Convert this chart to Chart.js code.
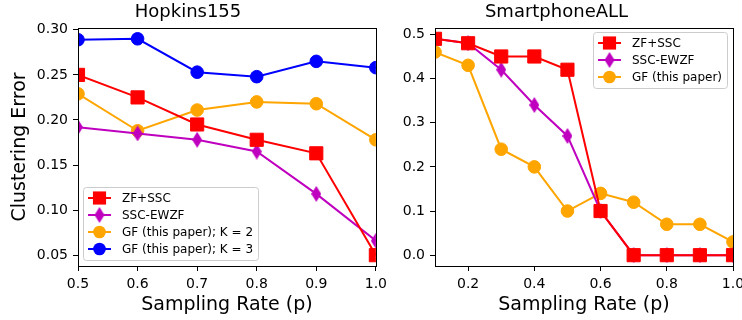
<!DOCTYPE html>
<html>
<head>
<meta charset="utf-8">
<script src="https://cdn.jsdelivr.net/npm/chart.js@4.4.1/dist/chart.umd.min.js"></script>
<style>
    body { margin: 0; background: #fff; width: 742px; height: 320px; overflow: hidden; position: relative; }
    .box { position: absolute; top: 0; height: 320px; }
</style>
</head>
<body>
<div class="box" style="left:0"><canvas id="hopkinsChart" width="392" height="320"></canvas></div>
<div class="box" style="left:380px"><canvas id="phoneChart" width="372" height="320"></canvas></div>
<script>
// Hopkins155
const hopRates = [0.5, 0.6, 0.7, 0.8, 0.9, 1.0];
const hopZF = [0.250, 0.225, 0.195, 0.178, 0.163, 0.050];
const hopEWZF = [0.192, 0.185, 0.178, 0.165, 0.118, 0.066];
const hopGF2 = [0.229, 0.188, 0.211, 0.220, 0.218, 0.178];
const hopGF3 = [0.289, 0.290, 0.253, 0.248, 0.265, 0.258];
const hopXTicks = [0.5, 0.6, 0.7, 0.8, 0.9, 1.0];
const hopYTicks = [0.05, 0.10, 0.15, 0.20, 0.25, 0.30];

// SmartphoneALL
const phoneRates = [0.1, 0.2, 0.3, 0.4, 0.5, 0.6, 0.7, 0.8, 0.9, 1.0];
const phoneZF = [0.49, 0.48, 0.45, 0.45, 0.42, 0.10, 0.00, 0.00, 0.00, 0.00];
const phoneEWZF = [0.49, 0.48, 0.42, 0.34, 0.27, 0.10, 0.00, 0.00, 0.00, 0.00];
const phoneGF = [0.46, 0.43, 0.24, 0.20, 0.10, 0.14, 0.12, 0.07, 0.07, 0.03];
const phoneXTicks = [0.2, 0.4, 0.6, 0.8, 1.0];
const phoneYTicks = [0.0, 0.1, 0.2, 0.3, 0.4, 0.5];

Chart.defaults.font.family = "'DejaVu Sans', sans-serif";
Chart.defaults.color = "#000";

const RED = "#ff0000", MAG = "#bf00bf", ORANGE = "#ffa500", BLUE = "#0000ff";

// matplotlib style thin diamond marker
function thinDiamond(color) {
    const c = document.createElement("canvas");
    c.width = 10; c.height = 16;
    const g = c.getContext("2d");
    g.fillStyle = color;
    g.beginPath();
    g.moveTo(5, 0); g.lineTo(10, 8); g.lineTo(5, 16); g.lineTo(0, 8);
    g.closePath();
    g.fill();
    return c;
}

function series(label, xs, ys, color, marker) {
    const ds = {
        label: label,
        data: xs.map((x, i) => ({ x: x, y: ys[i] })),
        borderColor: color,
        backgroundColor: color,
        borderWidth: 2,
        pointBorderColor: color,
        pointBackgroundColor: color,
        pointBorderWidth: 1,
        tension: 0,
        clip: 0
    };
    if (marker === "square") { ds.pointStyle = "rect"; ds.pointRadius = 9.3; }
    else if (marker === "circle") { ds.pointStyle = "circle"; ds.pointRadius = 6.3; }
    else { ds.pointStyle = thinDiamond(color); ds.pointRadius = 8; }
    return ds;
}

// black box around the plot area
const framePlugin = {
    id: "frame",
    afterDatasetsDraw(chart) {
        const { ctx, chartArea: a } = chart;
        ctx.save();
        ctx.strokeStyle = "#000";
        ctx.lineWidth = 1;
        ctx.strokeRect(Math.round(a.left) + 0.5, Math.round(a.top) + 0.5,
            Math.round(a.right - a.left), Math.round(a.bottom - a.top));
        ctx.restore();
    }
};

// matplotlib like legend drawn inside the plot
const boxLegend = {
    id: "boxLegend",
    afterDraw(chart, args, opts) {
        const ctx = chart.ctx;
        const sets = chart.data.datasets;
        ctx.save();
        ctx.font = opts.fontSize + "px 'DejaVu Sans'";
        let tw = 0;
        sets.forEach(d => { tw = Math.max(tw, ctx.measureText(d.label).width); });
        const w = opts.padX + opts.handle + opts.gap + tw + opts.padX;
        const h = opts.padY * 2 + (sets.length - 1) * opts.rowH;
        const x0 = opts.left !== undefined ? opts.left : opts.right - w;
        const y0 = opts.top !== undefined ? opts.top : opts.bottom - h;
        ctx.beginPath();
        ctx.roundRect(x0 + 0.5, y0 + 0.5, w, h, 3);
        ctx.fillStyle = "rgba(255,255,255,0.8)";
        ctx.fill();
        ctx.strokeStyle = "#cccccc";
        ctx.lineWidth = 1;
        ctx.stroke();
        sets.forEach((d, i) => {
            const y = y0 + opts.padY + i * opts.rowH;
            const hx = x0 + opts.padX;
            ctx.strokeStyle = d.borderColor;
            ctx.lineWidth = 2;
            ctx.beginPath();
            ctx.moveTo(hx, y); ctx.lineTo(hx + opts.handle, y);
            ctx.stroke();
            const cx = hx + opts.handle / 2;
            ctx.fillStyle = d.borderColor;
            if (d.pointStyle === "rect") {
                const s = d.pointRadius * Math.SQRT1_2;
                ctx.fillRect(cx - s, y - s, 2 * s, 2 * s);
            } else if (d.pointStyle === "circle") {
                ctx.beginPath(); ctx.arc(cx, y, d.pointRadius, 0, Math.PI * 2); ctx.fill();
            } else {
                ctx.drawImage(d.pointStyle, cx - d.pointStyle.width / 2, y - d.pointStyle.height / 2);
            }
            ctx.fillStyle = "#000";
            ctx.textBaseline = "middle";
            ctx.fillText(d.label, hx + opts.handle + opts.gap, y + 1);
        });
        ctx.restore();
    }
};

function makeChart(id, cfg) {
    return new Chart(document.getElementById(id), {
        type: "line",
        data: { datasets: cfg.datasets },
        options: {
            responsive: false,
            animation: false,
            layout: { padding: { left: 0, right: cfg.padRight, top: 0, bottom: 0 } },
            plugins: {
                legend: { display: false },
                tooltip: { enabled: false },
                title: {
                    display: true,
                    text: cfg.title,
                    font: { size: 18, weight: "normal" },
                    color: "#000",
                    padding: { top: 2, bottom: 4.4 }
                },
                boxLegend: cfg.legend
            },
            scales: {
                x: {
                    type: "linear",
                    min: cfg.xMin,
                    max: cfg.xMax,
                    afterBuildTicks: s => { s.ticks = cfg.xTicks.map(v => ({ value: v })); },
                    afterFit: s => { s.height = 54; },
                    grid: { drawOnChartArea: false, drawTicks: true, tickLength: 5, color: "#000" },
                    border: { display: false },
                    ticks: {
                        autoSkip: false, maxRotation: 0, padding: 5,
                        font: { size: 14 }, color: "#000",
                        callback: v => v.toFixed(1)
                    },
                    title: {
                        display: true,
                        text: "Sampling Rate (p)",
                        font: { size: 19 },
                        color: "#000",
                        padding: { top: 0, bottom: 4 }
                    }
                },
                y: {
                    min: cfg.yMin,
                    max: cfg.yMax,
                    afterBuildTicks: s => { s.ticks = cfg.yTicks.map(v => ({ value: v })); },
                    afterFit: s => { s.width = cfg.yWidth; },
                    grid: { drawOnChartArea: false, drawTicks: true, tickLength: 5, color: "#000" },
                    border: { display: false },
                    ticks: {
                        padding: 5, font: { size: 14 }, color: "#000",
                        callback: v => v.toFixed(cfg.yDigits)
                    },
                    title: {
                        display: cfg.yTitle !== "",
                        text: cfg.yTitle,
                        font: { size: 19 },
                        color: "#000",
                        padding: { top: 9, bottom: 0 }
                    }
                }
            }
        },
        plugins: [framePlugin, boxLegend]
    });
}

makeChart("hopkinsChart", {
    title: "Hopkins155",
    datasets: [
        series("ZF+SSC", hopRates, hopZF, RED, "square"),
        series("SSC-EWZF", hopRates, hopEWZF, MAG, "diamond"),
        series("GF (this paper); K = 2", hopRates, hopGF2, ORANGE, "circle"),
        series("GF (this paper); K = 3", hopRates, hopGF3, BLUE, "circle")
    ],
    xMin: 0.5, xMax: 1.0, xTicks: hopXTicks,
    yMin: 0.038, yMax: 0.302, yTicks: hopYTicks, yDigits: 2,
    yTitle: "Clustering Error", yWidth: 78, padRight: 16,
    legend: { left: 83, bottom: 260, padX: 5, padY: 11, rowH: 17, handle: 23, gap: 11, fontSize: 12 }
});

makeChart("phoneChart", {
    title: "SmartphoneALL",
    datasets: [
        series("ZF+SSC", phoneRates, phoneZF, RED, "square"),
        series("SSC-EWZF", phoneRates, phoneEWZF, MAG, "diamond"),
        series("GF (this paper)", phoneRates, phoneGF, ORANGE, "circle")
    ],
    xMin: 0.1, xMax: 1.0, xTicks: phoneXTicks,
    yMin: -0.0245, yMax: 0.5145, yTicks: phoneYTicks, yDigits: 1,
    yTitle: "", yWidth: 55, padRight: 19,
    legend: { right: 347, top: 32, padX: 5, padY: 11, rowH: 17, handle: 23, gap: 11, fontSize: 12 }
});
</script>
</body>
</html>
